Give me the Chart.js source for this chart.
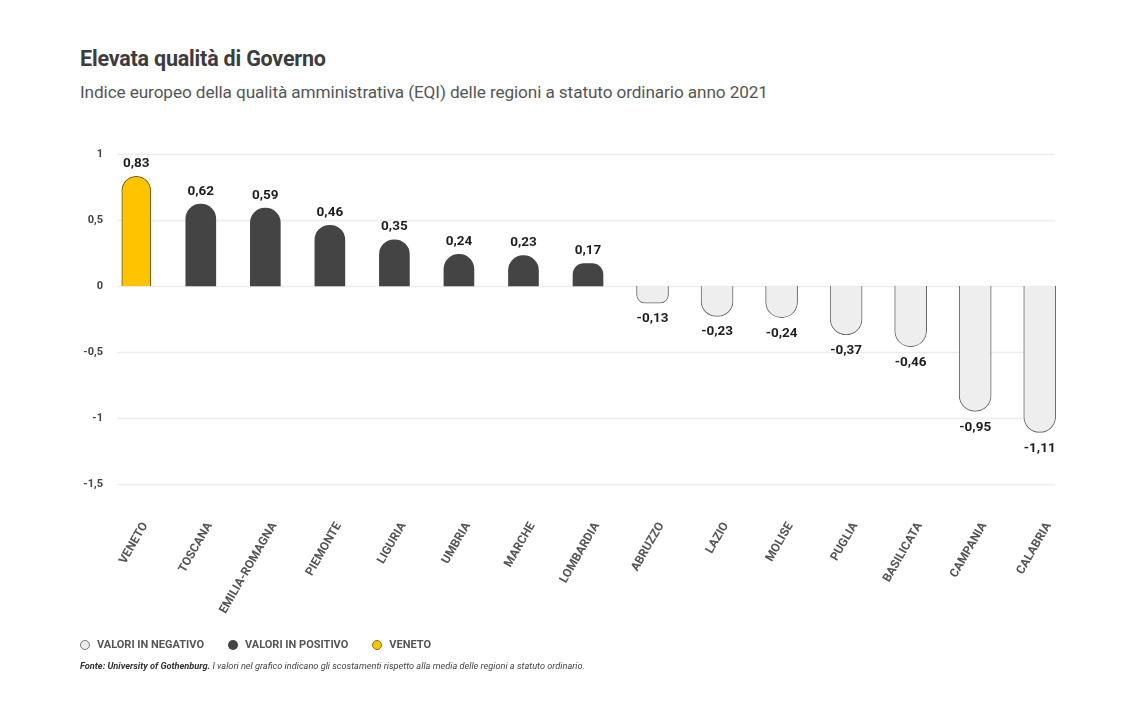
<!DOCTYPE html>
<html>
<head>
<meta charset="utf-8">
<script src="https://cdn.jsdelivr.net/npm/chart.js@4/dist/chart.umd.min.js"></script>
<style>
  html, body { margin:0; padding:0; background:#fff; }
  body { width:1130px; height:714px; position:relative; overflow:hidden; font-family: Roboto, "Noto Sans", sans-serif; }
  #title { position:absolute; left:80px; top:46px; font-size:21.5px; font-weight:700; color:#3c3c3c; letter-spacing:-0.2px; }
  #subtitle { position:absolute; left:80px; top:82px; font-size:17.2px; font-weight:400; color:#555; letter-spacing:-0.1px; }
  #wrap { position:absolute; left:0; top:130px; width:1130px; height:540px; }
  #legend { position:absolute; left:80px; top:638px; font-size:11px; font-weight:700; color:#555; display:flex; align-items:center; }
  #legend span.item { display:inline-flex; align-items:center; margin-right:24px; }
  #legend span.dot { width:10px; height:10px; border-radius:50%; display:inline-block; margin-right:7px; box-sizing:border-box; }
  #footer { position:absolute; left:80px; top:660px; font-size:9.2px; font-style:italic; color:#444; }
  #footer b { font-weight:700; color:#333; }
</style>
</head>
<body>
<div id="title">Elevata qualità di Governo</div>
<div id="subtitle">Indice europeo della qualità amministrativa (EQI) delle regioni a statuto ordinario anno 2021</div>
<div id="wrap"><canvas id="c"></canvas></div>
<div id="legend"></div>
<div id="footer"><b>Fonte: University of Gothenburg.</b> I valori nel grafico indicano gli scostamenti rispetto alla media delle regioni a statuto ordinario.</div>
<script>
const categories = ["VENETO","TOSCANA","EMILIA-ROMAGNA","PIEMONTE","LIGURIA","UMBRIA","MARCHE","LOMBARDIA","ABRUZZO","LAZIO","MOLISE","PUGLIA","BASILICATA","CAMPANIA","CALABRIA"];
const negativeValues = [null,null,null,null,null,null,null,null,-0.13,-0.23,-0.24,-0.37,-0.46,-0.95,-1.11];
const positiveValues = [null,0.62,0.59,0.46,0.35,0.24,0.23,0.17,null,null,null,null,null,null,null];
const venetoValues   = [0.83,null,null,null,null,null,null,null,null,null,null,null,null,null,null];
const seriesNames = ["VALORI IN NEGATIVO","VALORI IN POSITIVO","VENETO"];
const yTicks = [1,0.5,0,-0.5,-1,-1.5];

const fmt = v => String(v).replace('.', ',');

const valueLabels = {
  id:'valueLabels',
  afterDatasetsDraw(chart){
    const ctx = chart.ctx;
    ctx.save();
    ctx.font = '700 13.5px Roboto, sans-serif';
    ctx.fillStyle = '#1e1e1e';
    ctx.textAlign = 'center';
    chart.data.datasets.forEach((ds, di) => {
      const meta = chart.getDatasetMeta(di);
      meta.data.forEach((el, i) => {
        const v = ds.data[i];
        if (v === null || v === undefined) return;
        if (v >= 0) { ctx.textBaseline = 'bottom'; ctx.fillText(fmt(v), el.x, el.y - 6); }
        else { ctx.textBaseline = 'top'; ctx.fillText(fmt(v), el.x, el.y + 9); }
      });
    });
    ctx.restore();
  }
};

const gridLines = {
  id:'gridLines',
  beforeDatasetsDraw(chart){
    const ctx = chart.ctx, y = chart.scales.y, a = chart.chartArea;
    ctx.save();
    ctx.strokeStyle = '#ececec';
    ctx.lineWidth = 1.5;
    yTicks.forEach(t => {
      const py = Math.round(y.getPixelForValue(t)) + 0.5;
      ctx.beginPath(); ctx.moveTo(a.left + 13, py); ctx.lineTo(a.right - 17, py); ctx.stroke();
    });
    ctx.restore();
  }
};

const colors = { neg:'#eeeeee', negBorder:'#666666', pos:'#444444', ven:'#ffc300', venBorder:'#6b5800' };

new Chart(document.getElementById('c'), {
  type:'bar',
  data:{
    labels: categories,
    datasets:[
      { label: seriesNames[0], data: negativeValues, backgroundColor:colors.neg, borderColor:colors.negBorder, borderWidth:1, borderRadius:100, borderSkipped:'start', barThickness:32 },
      { label: seriesNames[1], data: positiveValues, backgroundColor:colors.pos, borderColor:colors.pos, borderWidth:0, borderRadius:100, borderSkipped:'start', barThickness:30 },
      { label: seriesNames[2], data: venetoValues, backgroundColor:colors.ven, borderColor:colors.venBorder, borderWidth:1, borderRadius:100, borderSkipped:'start', barThickness:29 }
    ]
  },
  options:{
    responsive:true, maintainAspectRatio:false, animation:false,
    layout:{ padding:{ left:0, right:58, top:24, bottom:36 } },
    datasets:{ bar:{ skipNull:true, grouped:true } },
    scales:{
      x:{
        grid:{ display:false, drawTicks:false }, border:{ display:false },
        afterFit(axis){ axis.height = 150; },
        ticks:{ minRotation:60, maxRotation:60, padding:36, labelOffset:9, color:'#555', font:{ family:'Roboto', size:12, weight:'700' }, autoSkip:false }
      },
      y:{
        min:-1.5, max:1,
        afterBuildTicks(axis){ axis.ticks = yTicks.map(v => ({value:v})); },
        afterFit(axis){ axis.width = 104; },
        grid:{ display:false, drawTicks:false }, border:{ display:false },
        ticks:{ padding:1, color:'#444', font:{ family:'Roboto', size:11, weight:'700' }, callback: v => fmt(v) }
      }
    },
    plugins:{ legend:{ display:false }, tooltip:{ enabled:false } }
  },
  plugins:[gridLines, valueLabels]
});

const legendEl = document.getElementById('legend');
const legendStyles = [
  { bg:colors.neg, border:'1px solid #777' },
  { bg:colors.pos, border:'none' },
  { bg:colors.ven, border:'1px solid #8a7000' }
];
seriesNames.forEach((n, i) => {
  const item = document.createElement('span'); item.className = 'item';
  const dot = document.createElement('span'); dot.className = 'dot';
  dot.style.background = legendStyles[i].bg; dot.style.border = legendStyles[i].border;
  item.appendChild(dot); item.appendChild(document.createTextNode(n));
  legendEl.appendChild(item);
});
</script>
</body>
</html>
